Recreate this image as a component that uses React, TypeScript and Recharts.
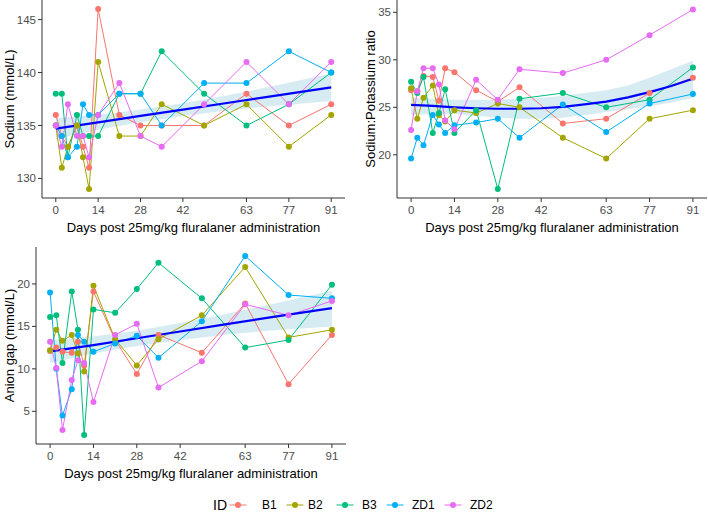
import { Area, ComposedChart, Line, XAxis, YAxis } from "recharts"

// sampling days and animal IDs
const days = [0, 2, 4, 7, 9, 11, 14, 21, 28, 35, 49, 63, 77, 91]
const ids = ["B1", "B2", "B3", "ZD1", "ZD2"]
const idColors = ["#F8766D", "#A3A500", "#00BF7D", "#00B0F6", "#E76BF3"]
const dayTicks = [0, 14, 28, 42, 63, 77, 91]

// Sodium (mmol/L), one row per ID
const sodiumValues = [
  [136, 134, 133, 135, 133, 131, 146, 136, 135, 135, 135, 138, 135, 137],
  [135, 131, 133, 135, 132, 129, 141, 134, 134, 137, 135, 137, 133, 136],
  [138, 138, 132, 136, 134, 134, 134, 138, 138, 142, 138, 135, 137, 140],
  [135, 134, 132, 133, 137, 136, 136, 138, 138, 135, 139, 139, 142, 140],
  [135, 133, 137, 134, 134, 132, 136, 139, 134, 133, 137, 141, 137, 141],
]
const sodiumTicks = [130, 135, 140, 145]
const sodiumFitDays = [0, 14, 28, 42, 56, 70, 91]
const sodiumFit = [134.7, 135.3, 135.9, 136.5, 137.1, 137.7, 138.6]
const sodiumLo = [133.7, 134.6, 135.3, 135.9, 136.4, 136.8, 137.3]
const sodiumHi = [135.7, 136.0, 136.5, 137.1, 137.8, 138.6, 139.9]

// Sodium:Potassium ratio
const ratioValues = [
  [26.8, 26.7, 28.3, 28.2, 25.7, 29.1, 28.7, 26.8, 25.6, 27.1, 23.3, 23.8, 26.5, 28.1],
  [27.0, 23.8, 26.0, 27.3, 24.2, 23.5, 24.7, 24.4, 25.4, 25.0, 21.8, 19.6, 23.8, 24.7],
  [27.7, 26.5, 28.2, 22.3, 24.4, 26.9, 22.3, 24.7, 16.4, 25.9, 26.5, 25.0, 25.8, 29.2],
  [19.6, 21.8, 21.0, 24.2, 23.2, 22.3, 23.1, 23.4, 23.8, 21.8, 25.3, 22.4, 25.4, 26.4],
  [22.6, 26.7, 29.1, 29.1, 27.4, 23.6, 22.7, 27.9, 25.8, 29.0, 28.6, 30.0, 32.6, 35.3],
]
const ratioTicks = [20, 25, 30, 35]
const ratioFitDays = [0, 7, 14, 21, 28, 35, 42, 49, 56, 63, 70, 77, 84, 91]
const ratioFit = [25.25, 25.15, 25.0, 24.9, 24.85, 24.85, 24.9, 25.05, 25.3, 25.6, 26.05, 26.6, 27.25, 28.0]
const ratioLo = [24.2, 24.3, 24.3, 24.1, 23.9, 23.8, 23.8, 23.9, 24.2, 24.5, 24.8, 25.1, 25.5, 26.0]
const ratioHi = [26.0, 25.9, 25.8, 25.8, 25.8, 25.9, 26.0, 26.2, 26.5, 26.8, 27.3, 28.1, 29.0, 29.9]

// Anion gap (mmol/L)
const anionValues = [
  [12.1, 12.5, 12.0, 11.9, 13.2, 10.4, 19.1, 13.4, 9.4, 14.0, 11.9, 17.7, 8.2, 14.0],
  [12.2, 14.6, 13.3, 14.0, 11.8, 9.7, 19.8, 13.5, 10.4, 13.5, 16.3, 22.0, 13.7, 14.6],
  [16.1, 16.3, 10.7, 19.1, 14.6, 2.2, 17.0, 16.6, 19.4, 22.5, 18.3, 12.5, 13.4, 19.9],
  [19.0, 10.0, 4.5, 7.6, 14.0, 13.2, 12.0, 13.0, 13.9, 11.3, 15.6, 23.3, 18.7, 18.3],
  [13.2, 10.1, 2.8, 8.7, 11.0, 10.7, 6.1, 14.0, 15.3, 7.8, 10.9, 17.6, 16.3, 18.0],
]
const anionTicks = [5, 10, 15, 20]
const anionFitDays = [0, 14, 28, 42, 56, 70, 91]
const anionFit = [12.05, 12.8, 13.6, 14.4, 15.2, 16.0, 17.15]
const anionLo = [10.7, 11.8, 12.7, 13.4, 14.0, 14.5, 15.0]
const anionHi = [13.4, 13.8, 14.5, 15.4, 16.4, 17.5, 19.2]

const FONT = "'Liberation Sans', Arial, sans-serif"
const AXIS = "#333333"
const X_TITLE = "Days post 25mg/kg fluralaner administration"

const toRows = (values: number[][]) =>
  days.map((day, i) => {
    const row: Record<string, number> = { day }
    ids.forEach((id, k) => (row[id] = values[k][i]))
    return row
  })

const toSmooth = (fd: number[], fit: number[], lo: number[], hi: number[]) =>
  fd.map((day, i) => ({ day, fit: fit[i], band: [lo[i], hi[i]] }))

interface PanelProps {
  left: number
  top: number
  width: number
  height: number
  margin: { top: number; right: number; left: number; bottom: number }
  yWidth: number
  yDomain: [number, number]
  yTicks: number[]
  yTitle: string
  yTitleDx: number
  values: number[][]
  smooth: { day: number; fit: number; band: number[] }[]
}

const Panel = (p: PanelProps) => {
  const rows = toRows(p.values)
  return (
    <div style={{ position: "absolute", left: p.left, top: p.top }}>
      <ComposedChart width={p.width} height={p.height} margin={p.margin} style={{ fontFamily: FONT }}>
        <XAxis
          dataKey="day"
          type="number"
          domain={[-4.55, 95.55]}
          ticks={dayTicks}
          height={42}
          tickSize={4}
          tickMargin={4}
          axisLine={{ stroke: AXIS }}
          tickLine={{ stroke: AXIS }}
          tick={{ fill: "#4D4D4D", fontSize: 11.5 }}
          label={{ value: X_TITLE, position: "center", dy: 8, fill: "#000", fontSize: 13 }}
        />
        <YAxis
          type="number"
          domain={p.yDomain}
          ticks={p.yTicks}
          width={p.yWidth}
          tickSize={4}
          tickMargin={2}
          axisLine={{ stroke: AXIS }}
          tickLine={{ stroke: AXIS }}
          tick={{ fill: "#4D4D4D", fontSize: 11.5 }}
          label={{ value: p.yTitle, angle: -90, position: "center", dx: p.yTitleDx, fill: "#000", fontSize: 13 }}
        />
        {ids.map((id, k) => (
          <Line
            key={id}
            data={rows}
            dataKey={id}
            stroke={idColors[k]}
            strokeWidth={1}
            dot={{ r: 3, fill: idColors[k], stroke: idColors[k], strokeWidth: 0 }}
            isAnimationActive={false}
          />
        ))}
        <Area
          data={p.smooth}
          dataKey="band"
          stroke="none"
          fill="#add8e6"
          fillOpacity={0.5}
          isAnimationActive={false}
        />
        <Line
          data={p.smooth}
          dataKey="fit"
          stroke="#0000FF"
          strokeWidth={2.2}
          dot={false}
          isAnimationActive={false}
        />
      </ComposedChart>
    </div>
  )
}

const Legend = () => {
  const glyphX = [238, 295, 345, 395, 453]
  const labelX = [262, 308, 362, 412, 470]
  const y = 505
  return (
    <svg width={708} height={30} style={{ position: "absolute", left: 0, top: y - 15, fontFamily: FONT }}>
      <text x={213} y={15} dy="0.35em" fontSize={14} fill="#000">ID</text>
      {ids.map((id, k) => (
        <g key={id}>
          <line x1={glyphX[k] - 8.5} x2={glyphX[k] + 8.5} y1={15} y2={15} stroke={idColors[k]} strokeWidth={1} />
          <circle cx={glyphX[k]} cy={15} r={3} fill={idColors[k]} />
          <text x={labelX[k]} y={15} dy="0.35em" fontSize={12} fill="#000">{id}</text>
        </g>
      ))}
    </svg>
  )
}

export default function App() {
  return (
    <div style={{ position: "absolute", left: 0, top: 0, width: 708, height: 513, background: "#fff" }}>
      <Panel
        left={0}
        top={0}
        width={350}
        height={240}
        margin={{ top: 0, right: 5, left: 0, bottom: 0 }}
        yWidth={42}
        yDomain={[128.15, 146.85]}
        yTicks={sodiumTicks}
        yTitle="Sodium (mmol/L)"
        yTitleDx={-12}
        values={sodiumValues}
        smooth={toSmooth(sodiumFitDays, sodiumFit, sodiumLo, sodiumHi)}
      />
      <Panel
        left={355}
        top={0}
        width={353}
        height={240}
        margin={{ top: 0, right: 1, left: 0, bottom: 0 }}
        yWidth={42}
        yDomain={[15.45, 36.3]}
        yTicks={ratioTicks}
        yTitle="Sodium:Potassium ratio"
        yTitleDx={-6}
        values={ratioValues}
        smooth={toSmooth(ratioFitDays, ratioFit, ratioLo, ratioHi)}
      />
      <Panel
        left={0}
        top={240}
        width={350}
        height={246}
        margin={{ top: 7, right: 4, left: 0, bottom: 0 }}
        yWidth={36}
        yDomain={[1.15, 24.35]}
        yTicks={anionTicks}
        yTitle="Anion gap (mmol/L)"
        yTitleDx={-9}
        values={anionValues}
        smooth={toSmooth(anionFitDays, anionFit, anionLo, anionHi)}
      />
      <Legend />
    </div>
  )
}
